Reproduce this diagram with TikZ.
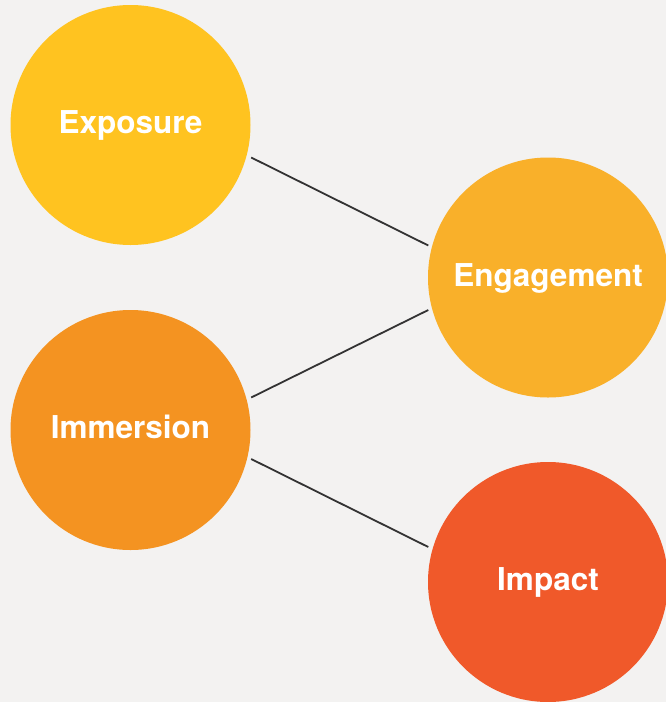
\documentclass[tikz,border=0pt]{standalone}
\usepackage{fontspec}
\setmainfont{TeX Gyre Heros}
\definecolor{bg}{HTML}{F3F2F1}
\definecolor{cExpo}{HTML}{FFC320}
\definecolor{cEng}{HTML}{F9B02A}
\definecolor{cImm}{HTML}{F49321}
\definecolor{cImp}{HTML}{F0592A}
\definecolor{lineC}{HTML}{333333}
\begin{document}
\begin{tikzpicture}[x=1pt,y=-1pt,
  bubble/.style={circle,minimum size=240pt,inner sep=0pt,text=white,text height=17pt,text depth=0pt,font=\fontsize{31.5}{31.5}\selectfont\bfseries},
  link/.style={draw=lineC,line width=1.8pt}]
\fill[bg] (0,0) rectangle (666,702);
\useasboundingbox (0,0) rectangle (666,702);
\node[bubble,fill=cExpo] (expo) at (130.5,125) {Exposure};
\node[bubble,fill=cEng] (eng) at (548,277.5) {Engagement};
\node[bubble,fill=cImm] (imm) at (130.5,430) {Immersion};
\node[bubble,fill=cImp] (imp) at (548,582) {Impact};
\draw[link] ([shift={(0.5pt,-32.5pt)}]expo.east) -- ([shift={(0.5pt,32pt)}]eng.west);
\draw[link] ([shift={(0.5pt,32.5pt)}]imm.east) -- ([shift={(0.5pt,-32.5pt)}]eng.west);
\draw[link] ([shift={(0.5pt,-29pt)}]imm.east) -- ([shift={(0.5pt,35pt)}]imp.west);
\end{tikzpicture}
\end{document}
